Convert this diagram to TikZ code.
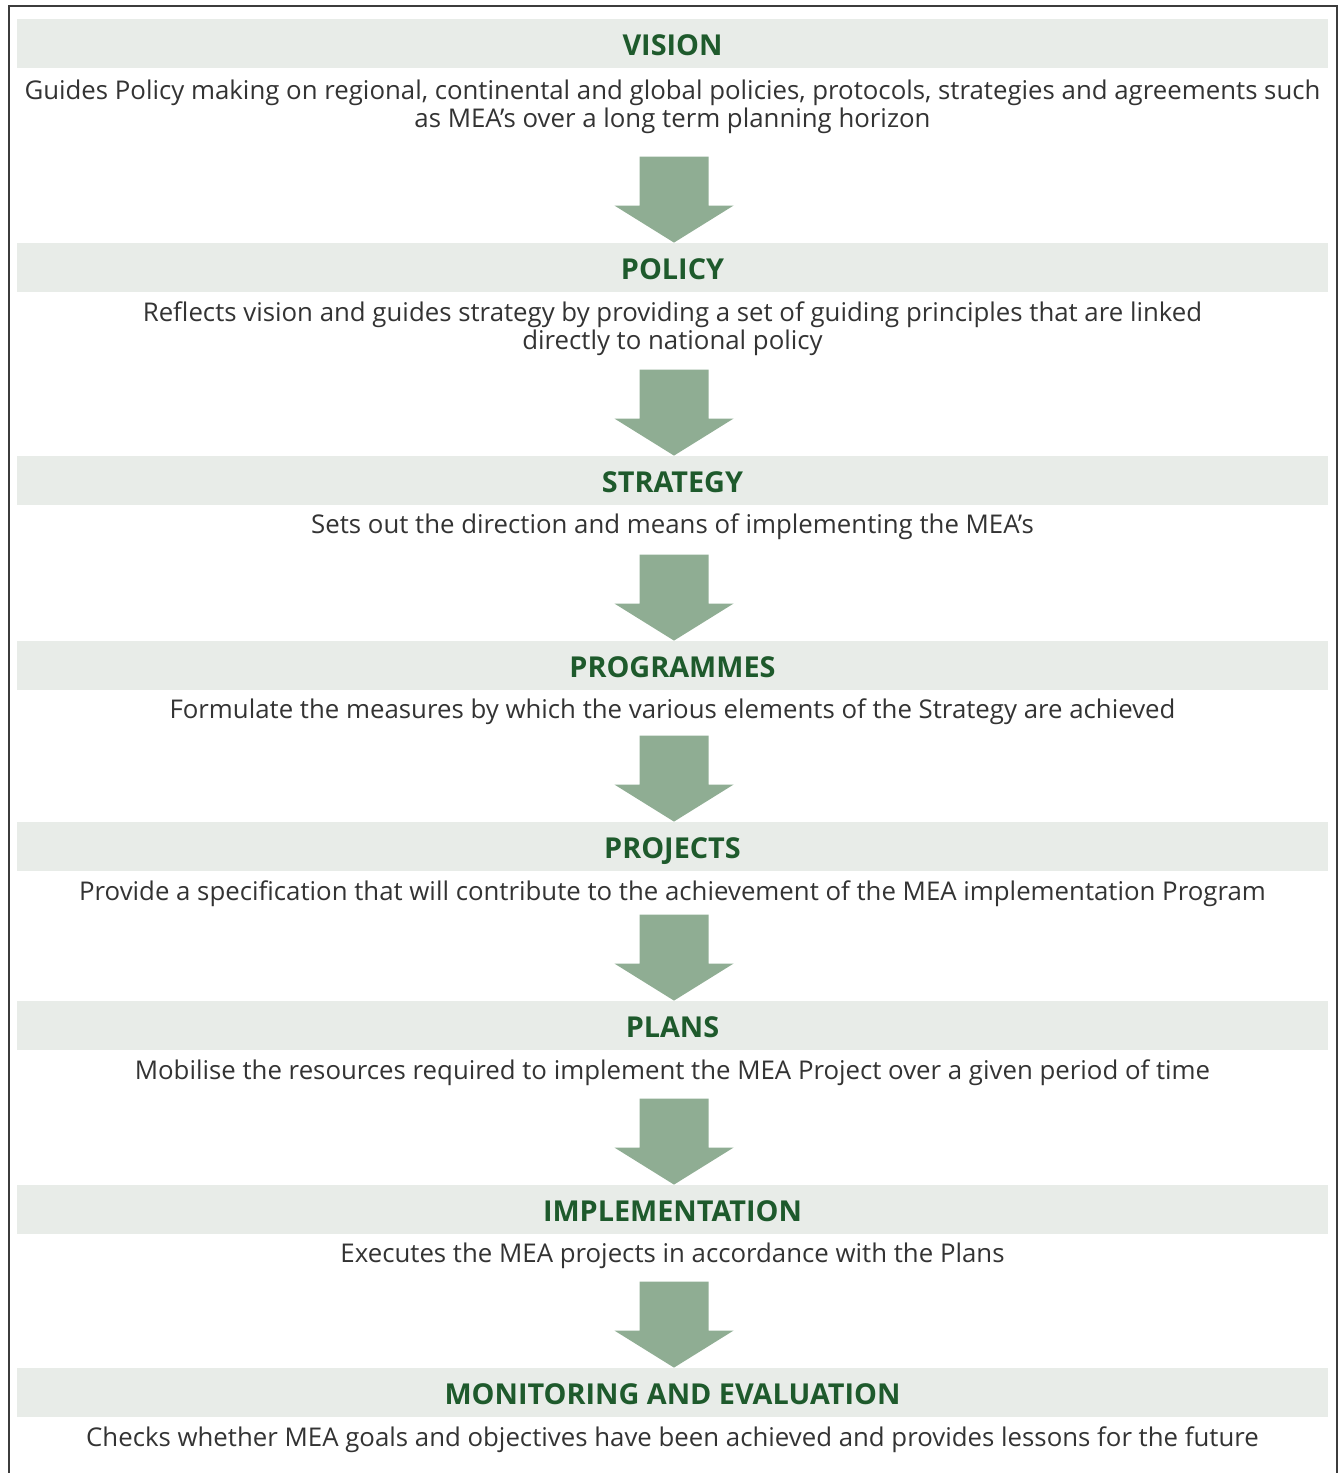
\documentclass[tikz,border=0pt]{standalone}
\usepackage{fontspec}
\setmainfont{Open Sans}
\definecolor{mBand}{HTML}{E8ECE8}
\definecolor{mTitle}{HTML}{1E5A2C}
\definecolor{mArrow}{HTML}{8FAD93}
\definecolor{mFrame}{HTML}{3C3C3C}
\usetikzlibrary{positioning,calc}

\begin{document}
\begin{tikzpicture}[x=0.5pt, y=-0.5pt,
  band/.style={fill=mBand, minimum width=655.5pt, minimum height=24.5pt, inner sep=0pt,
    text height=12pt, text depth=0pt,
    font=\fontsize{14.4}{15}\selectfont\bfseries, text=mTitle},
  desc/.style={align=center, inner sep=0pt, font=\fontsize{12.9}{14}\selectfont, text=black!80},
  flowarrow/.style={fill=mArrow}]
\useasboundingbox (0,0) rectangle (1340,1473);
% frame, open at the bottom
\draw[mFrame, line width=0.6pt] (9,1480) -- (9,6) -- (1337,6) -- (1337,1480);
% bands
\node[band] (vision) at (672.5,43.5) {VISION};
\node[band] (policy) at (672.5,267.5) {POLICY};
\node[band] (strategy) at (672.5,480.5) {STRATEGY};
\node[band] (programmes) at (672.5,665.5) {PROGRAMMES};
\node[band] (projects) at (672.5,846.5) {PROJECTS};
\node[band] (plans) at (672.5,1025.5) {PLANS};
\node[band] (implementation) at (672.5,1209.5) {IMPLEMENTATION};
\node[band] (monitoring) at (672.5,1392.5) {MONITORING AND EVALUATION};
% descriptions
\node[desc] (visiontxt) at (672.5,107) {Guides Policy making on regional, continental and global policies, protocols, strategies and agreements such\\as MEA’s over a long term planning horizon};
\node[desc] (policytxt) at (672.5,329) {Reflects vision and guides strategy by providing a set of guiding principles that are linked\\directly to national policy};
\node[desc] (strategytxt) at (672.5,527) {Sets out the direction and means of implementing the MEA’s};
\node[desc] (programmestxt) at (672.5,712) {Formulate the measures by which the various elements of the Strategy are achieved};
\node[desc] (projectstxt) at (672.5,894) {Provide a specification that will contribute to the achievement of the MEA implementation Program};
\node[desc] (planstxt) at (672.5,1073) {Mobilise the resources required to implement the MEA Project over a given period of time};
\node[desc] (implementationtxt) at (672.5,1256) {Executes the MEA projects in accordance with the Plans};
\node[desc] (monitoringtxt) at (672.5,1440) {Checks whether MEA goals and objectives have been achieved and provides lessons for the future};
% block arrows
\foreach \nxt in {policy,strategy,programmes,projects,plans,implementation,monitoring}
  \fill[flowarrow] ([xshift=0.75pt]\nxt.north) -- ++(-29.75pt,18.5pt) -- ++(12.5pt,0) -- ++(0,24.5pt)
    -- ++(34.5pt,0) -- ++(0,-24.5pt) -- ++(12.5pt,0) -- cycle;
\end{tikzpicture}
\end{document}
